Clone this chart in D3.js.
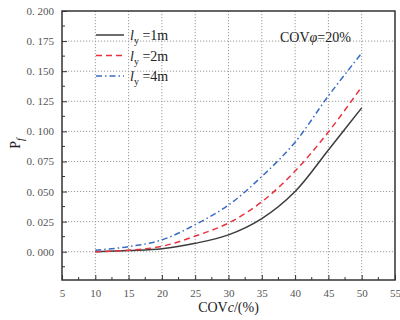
<!DOCTYPE html>
<html>
<head>
<meta charset="utf-8">
<script src="https://cdn.jsdelivr.net/npm/d3@7"></script>
<style>
  body { margin: 0; background: #fff; }
  svg { display: block; font-family: "Liberation Serif", "DejaVu Serif", serif; }
</style>
</head>
<body>
<svg id="chart" width="400" height="320"></svg>
<script>
var covC = [10, 15, 20, 25, 30, 35, 40, 45, 50];
var pfLy1 = [0.000, 0.001, 0.0025, 0.007, 0.014, 0.0275, 0.050, 0.0845, 0.1195];
var pfLy2 = [0.000, 0.0012, 0.0045, 0.013, 0.0238, 0.0415, 0.067, 0.0995, 0.137];
var pfLy4 = [0.0012, 0.0042, 0.0098, 0.0225, 0.0388, 0.0625, 0.091, 0.1295, 0.165];
var legendNames = ["1m", "2m", "4m"];
var xTicks = [5, 10, 15, 20, 25, 30, 35, 40, 45, 50, 55];
var yTicks = [0, 0.025, 0.05, 0.075, 0.1, 0.125, 0.15, 0.175, 0.2];

var svg = d3.select("#chart");
var margin = {top: 11, right: 5, bottom: 40, left: 62};
var width = 400 - margin.left - margin.right;
var height = 320 - margin.top - margin.bottom;

var x = d3.scaleLinear().domain([5, 55]).range([0, width]);
var y = d3.scaleLinear().domain([-0.0235, 0.2]).range([height, 0]);

var g = svg.append("g").attr("transform", "translate(" + margin.left + "," + margin.top + ")");

// 点線グリッド
g.selectAll(".vgrid")
  .data(xTicks.filter(function(d){ return d > 5 && d < 55; }))
  .enter().append("line")
    .attr("x1", function(d){ return x(d); })
    .attr("x2", function(d){ return x(d); })
    .attr("y1", 0).attr("y2", height)
    .attr("stroke", "#999").attr("stroke-width", 1).attr("stroke-dasharray", "1.2,1.8");
g.selectAll(".hgrid")
  .data(yTicks.filter(function(d){ return d < 0.2; }))
  .enter().append("line")
    .attr("y1", function(d){ return y(d); })
    .attr("y2", function(d){ return y(d); })
    .attr("x1", 0).attr("x2", width)
    .attr("stroke", "#999").attr("stroke-width", 1).attr("stroke-dasharray", "1.2,1.8");

var fmt = d3.format(".3f");

var xAxis = d3.axisBottom(x).tickValues(xTicks).tickSizeInner(-5).tickSizeOuter(0).tickPadding(9)
  .tickFormat(d3.format("d"));
var yAxis = d3.axisLeft(y).tickValues(yTicks).tickSizeInner(-5).tickSizeOuter(0).tickPadding(8)
  .tickFormat(function(d){ return fmt(d).replace(".", ". "); });

// 副目盛
var xMinor = xTicks.slice(0, -1).map(function(d){ return d + 2.5; });
var yMinor = [-0.0125].concat(yTicks.slice(0, -1).map(function(d){ return d + 0.0125; }));

g.append("g").selectAll("line").data(xMinor).enter().append("line")
  .attr("x1", function(d){ return x(d); }).attr("x2", function(d){ return x(d); })
  .attr("y1", height).attr("y2", height - 3)
  .attr("stroke", "#333").attr("stroke-width", 1);
g.append("g").selectAll("line").data(yMinor).enter().append("line")
  .attr("y1", function(d){ return y(d); }).attr("y2", function(d){ return y(d); })
  .attr("x1", 0).attr("x2", 3)
  .attr("stroke", "#333").attr("stroke-width", 1);

var xg = g.append("g").attr("transform", "translate(0," + height + ")").call(xAxis);
var yg = g.append("g").call(yAxis);

[xg, yg].forEach(function(a){
  a.select(".domain").remove();
  a.selectAll(".tick line").attr("stroke", "#333").attr("stroke-width", 1);
  a.selectAll(".tick text").attr("fill", "#555").style("font-size", "11px")
    .style("font-family", "'Liberation Serif', serif");
});

// 枠
g.append("rect")
  .attr("x", 0).attr("y", 0).attr("width", width).attr("height", height)
  .attr("fill", "none").attr("stroke", "#333").attr("stroke-width", 1.5);

var series = [
  { name: legendNames[0], color: "#3c3c3c", dash: null, values: pfLy1 },
  { name: legendNames[1], color: "#e8333d", dash: "6,4", values: pfLy2 },
  { name: legendNames[2], color: "#3a6cc4", dash: "6,3,1.5,3", values: pfLy4 }
];

var line = d3.line()
  .x(function(d, i){ return x(covC[i]); })
  .y(function(d){ return y(d); })
  .curve(d3.curveCatmullRom);

g.selectAll(".pf-line")
  .data(series)
  .enter().append("path")
    .attr("class", "pf-line")
    .attr("fill", "none")
    .attr("stroke", function(d){ return d.color; })
    .attr("stroke-width", 1.5)
    .attr("stroke-dasharray", function(d){ return d.dash; })
    .attr("d", function(d){ return line(d.values); });

// 凡例
var legend = g.selectAll(".legend")
  .data(series)
  .enter().append("g")
    .attr("class", "legend")
    .attr("transform", function(d, i){ return "translate(" + (96 - margin.left) + "," + (35 + i * 20.5 - margin.top) + ")"; });

legend.append("line")
  .attr("x1", 0).attr("x2", 28)
  .attr("stroke", function(d){ return d.color; })
  .attr("stroke-width", 1.5)
  .attr("stroke-dasharray", function(d){ return d.dash; });

var lt = legend.append("text")
  .attr("x", 34).attr("y", 5)
  .attr("fill", "#222")
  .style("font-size", "14px");
lt.append("tspan").style("font-style", "italic").text("l");
lt.append("tspan").attr("dy", 4).style("font-size", "10px").text("y");
lt.append("tspan").attr("dy", -4).text(function(d){ return " =" + d.name; });

var ann = g.append("text")
  .attr("x", 280 - margin.left).attr("y", 42 - margin.top)
  .attr("fill", "#222")
  .style("font-size", "14px");
ann.append("tspan").text("COV");
ann.append("tspan").style("font-style", "italic").text("φ");
ann.append("tspan").text("=20%");

// 軸ラベル
var xl = svg.append("text")
  .attr("x", margin.left + width / 2).attr("y", 312)
  .attr("text-anchor", "middle")
  .attr("fill", "#222")
  .style("font-size", "14px");
xl.append("tspan").text("COV");
xl.append("tspan").style("font-style", "italic").text("c");
xl.append("tspan").text("/(%)");

var yl = svg.append("text")
  .attr("transform", "translate(20," + (margin.top + y(0.09)) + ") rotate(-90)")
  .attr("text-anchor", "middle")
  .attr("fill", "#222")
  .style("font-size", "14px");
yl.append("tspan").text("P");
yl.append("tspan").attr("dy", 4).style("font-size", "10px").style("font-style", "italic").text("f");
</script>
</body>
</html>
